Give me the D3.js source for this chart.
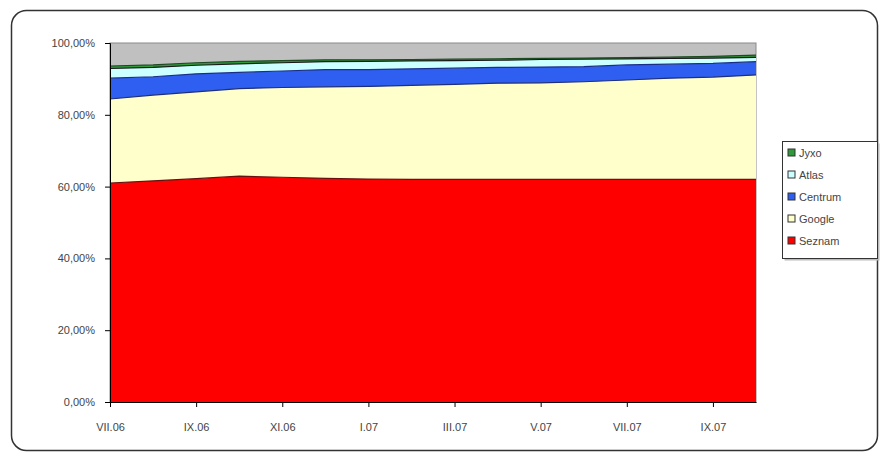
<!DOCTYPE html>
<html>
<head>
<meta charset="utf-8">
<script src="https://cdn.jsdelivr.net/npm/d3@7"></script>
<style>
  body { margin: 0; background: #fff; }
  svg { display: block; }
  text { font-family: "Liberation Sans", Arial, sans-serif; }
</style>
</head>
<body>
<div id="chart"></div>
<script>
// months VII.06 .. X.07
var months = ["VII.06","VIII.06","IX.06","X.06","XI.06","XII.06","I.07","II.07","III.07","IV.07","V.07","VI.07","VII.07","VIII.07","IX.07","X.07"];

// shares in %
var seznam  = [61.0, 61.6, 62.2, 62.9, 62.6, 62.3, 62.1, 62.0, 62.0, 62.0, 62.0, 62.0, 62.0, 62.0, 62.0, 62.0];
var google  = [23.4, 23.9, 24.2, 24.4, 25.0, 25.5, 25.8, 26.2, 26.5, 26.8, 26.9, 27.2, 27.7, 28.2, 28.5, 29.1];
var centrum = [5.8, 5.1, 5.0, 4.5, 4.6, 4.8, 4.7, 4.6, 4.5, 4.4, 4.4, 4.2, 4.2, 3.9, 3.8, 3.7];
var atlas   = [2.7, 2.6, 2.4, 2.4, 2.3, 2.2, 2.3, 2.2, 2.1, 2.0, 2.1, 2.1, 1.7, 1.6, 1.5, 1.2];
var jyxo    = [0.7, 0.7, 0.7, 0.7, 0.6, 0.5, 0.4, 0.4, 0.4, 0.4, 0.3, 0.3, 0.3, 0.4, 0.5, 0.6];

var yTicks = [0, 20, 40, 60, 80, 100];
var xTickLabels = ["VII.06","IX.06","XI.06","I.07","III.07","V.07","VII.07","IX.07"];

var series = [
  {key: "Seznam",  values: seznam,  fill: "#ff0000", line: "#6a1010"},
  {key: "Google",  values: google,  fill: "#ffffcc", line: "#1f2f7a"},
  {key: "Centrum", values: centrum, fill: "#2f5ff0", line: "#1a2f8a"},
  {key: "Atlas",   values: atlas,   fill: "#ccffff", line: "#1a1a1a"},
  {key: "Jyxo",    values: jyxo,    fill: "#2e9a3a", line: "#1e4a22"}
];

var W = 881, H = 456;
var plot = {left: 110, right: 756, top: 43, bottom: 402};

var svg = d3.select("#chart").append("svg")
    .attr("width", W).attr("height", H);

// outer rounded frame
svg.append("rect")
    .attr("x", 11.5).attr("y", 10.5)
    .attr("width", 866).attr("height", 440)
    .attr("rx", 15).attr("ry", 15)
    .style("fill", "#fff")
    .style("stroke", "#333")
    .style("stroke-width", 1.5);

var x = d3.scalePoint().domain(months).range([plot.left, plot.right]);
var y = d3.scaleLinear().domain([0, 100]).range([plot.bottom, plot.top]);

// plot area background (grey)
svg.append("rect")
    .attr("x", plot.left).attr("y", plot.top)
    .attr("width", plot.right - plot.left).attr("height", plot.bottom - plot.top)
    .style("fill", "#c0c0c0")
    .style("stroke", "#8a8a8a")
    .style("stroke-width", 1);

// build table for the stack
var table = months.map(function(m, i){
  var row = {month: m};
  series.forEach(function(s){ row[s.key] = s.values[i]; });
  return row;
});

var stack = d3.stack().keys(series.map(function(s){ return s.key; }));
var layers = stack(table);

var area = d3.area()
    .x(function(d){ return x(d.data.month); })
    .y0(function(d){ return y(d[0]); })
    .y1(function(d){ return y(d[1]); });

var topLine = d3.line()
    .x(function(d){ return x(d.data.month); })
    .y(function(d){ return y(d[1]); });

svg.selectAll("path.area")
  .data(layers)
  .enter()
  .append("path")
    .attr("class", "area")
    .attr("d", area)
    .style("fill", function(d, i){ return series[i].fill; });

svg.selectAll("path.edge")
  .data(layers)
  .enter()
  .append("path")
    .attr("class", "edge")
    .attr("d", topLine)
    .style("fill", "none")
    .style("stroke", function(d, i){ return series[i].line; })
    .style("stroke-width", 1.2);

// y axis
var yAxis = d3.axisLeft(y)
    .tickValues(yTicks)
    .tickSize(5)
    .tickPadding(10)
    .tickFormat(function(d){ return d3.format(".2f")(d).replace(".", ",") + "%"; });

var gy = svg.append("g")
    .attr("transform", "translate(" + plot.left + ",0)")
    .call(yAxis);
gy.select(".domain").attr("stroke", "#000");
gy.selectAll("text").style("font-size", "11px").style("fill", "#444")
    .style("font-family", "'Liberation Sans', Arial, sans-serif");

// x axis
var xAxis = d3.axisBottom(x)
    .tickValues(xTickLabels)
    .tickSize(5)
    .tickSizeOuter(0)
    .tickPadding(16);

var gx = svg.append("g")
    .attr("transform", "translate(0," + plot.bottom + ")")
    .call(xAxis);
gx.select(".domain").attr("stroke", "#000");
gx.selectAll("text").style("font-size", "11px").style("fill", "#444")
    .style("font-family", "'Liberation Sans', Arial, sans-serif");

// legend
var legend = svg.append("g").attr("transform", "translate(782,141)");
legend.append("rect")
    .attr("x", 2.5).attr("y", 2.5)
    .attr("width", 95).attr("height", 117)
    .style("fill", "#bbb");
legend.append("rect")
    .attr("x", 0.5).attr("y", 0.5)
    .attr("width", 95).attr("height", 117)
    .style("fill", "#fff")
    .style("stroke", "#333")
    .style("stroke-width", 1);

var legendItems = series.slice().reverse();
var li = legend.selectAll("g.item")
  .data(legendItems)
  .enter()
  .append("g")
    .attr("class", "item")
    .attr("transform", function(d, i){ return "translate(6," + (12 + i * 22) + ")"; });

li.append("rect")
    .attr("x", 0).attr("y", -4)
    .attr("width", 7).attr("height", 7)
    .style("fill", function(d){ return d.fill; })
    .style("stroke", "#333")
    .style("stroke-width", 1);

li.append("text")
    .attr("x", 11).attr("y", 4)
    .style("font-size", "11px")
    .style("fill", "#444")
    .text(function(d){ return d.key; });
</script>
</body>
</html>
